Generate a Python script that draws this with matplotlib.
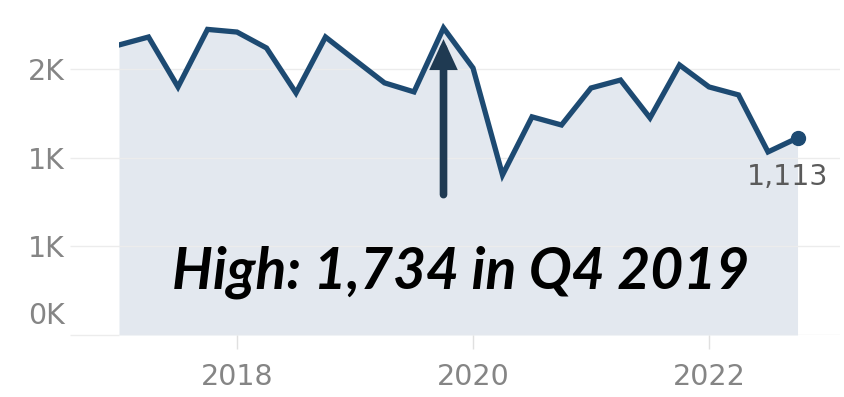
import numpy as np
import matplotlib
matplotlib.use('Agg')
from matplotlib import pyplot as plt
from matplotlib.transforms import ScaledTranslation

# quarterly counts, Q1 2017 .. Q4 2022
years = [2017, 2018, 2019, 2020, 2021, 2022]
counts = [1638, 1683, 1401, 1726,
          1711, 1621, 1367, 1683,
          1553, 1424, 1373, 1734,
          1508, 904, 1232, 1186,
          1395, 1440, 1226, 1525,
          1401, 1356, 1034, 1113]
ytick_vals = [0, 500, 1000, 1500]
ytick_labels = ['0K', '1K', '1K', '2K']
xtick_years = [2018, 2020, 2022]

t = np.array([y + q / 4 for y in years for q in range(4)])
v = np.array(counts)
hi = int(np.argmax(v))
hi_q = int(round((t[hi] % 1) * 4)) + 1
hi_year = int(t[hi])

line_c = '#1d4a72'
fill_c = '#e3e8ef'
grid_c = '#ececec'
txt_c = '#858585'

fig = plt.figure(figsize=(8.44, 3.97), dpi=100)
ax = fig.add_axes([119 / 844, 62 / 397, 721 / 844, 335 / 397])

ax.fill_between(t, 0, v, color=fill_c, lw=0, zorder=1)
ax.plot(t, v, color=line_c, lw=3.8, solid_joinstyle='miter', zorder=3)
ax.plot(t[-1], v[-1], 'o', color=line_c, ms=10, zorder=4)

ax.set_xlim(2017.0, 2023.11)
ax.set_ylim(0, 1892)

ax.set_yticks(ytick_vals)
ax.set_yticklabels(ytick_labels)
ax.set_xticks(xtick_years)
ax.set_xticklabels([str(y) for y in xtick_years])
ax.grid(axis='y', color=grid_c, lw=1, zorder=2)
ax.tick_params(axis='y', length=35, width=1, color=grid_c, pad=4,
               labelsize=20.5, labelcolor=txt_c)
ax.tick_params(axis='x', length=10, width=1, color='#e0e0e0', pad=10,
               labelsize=20.5, labelcolor=txt_c)
for s in ax.spines.values():
    s.set_visible(False)

# the zero label sits a bit above the baseline
for lbl in ax.get_yticklabels():
    if lbl.get_text() == '0K':
        lbl.set_transform(lbl.get_transform() + ScaledTranslation(0, 22 / 100, fig.dpi_scale_trans))

# last value label
ax.annotate(f'{v[-1]:,}', xy=(t[-1], v[-1]), xytext=(-7, -28), textcoords='offset points',
            ha='center', va='center', fontsize=20.5, color='#5a5a5a', zorder=5)

# arrow pointing at the high
ax.annotate('', xy=(t[hi], v[hi]), xytext=(0, -120), textcoords='offset points',
            xycoords='data',
            arrowprops=dict(arrowstyle='-|>,head_length=1.3,head_width=0.6',
                            color='#1f3a52', lw=5.5, joinstyle='miter',
                            shrinkA=0, shrinkB=8),
            zorder=6)

ax.text(0.474, 0.188, f'High: {v[hi]:,} in Q{hi_q} {hi_year}', transform=ax.transAxes,
        ha='center', va='center', fontsize=41, fontweight='bold', fontstyle='italic',
        family='Lato', color='black', zorder=7)

fig.savefig('out.png', dpi=100)
